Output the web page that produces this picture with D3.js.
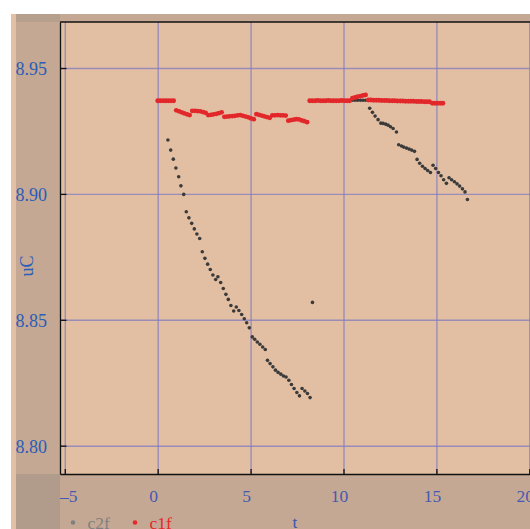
<!DOCTYPE html>
<html>
<head>
<meta charset="utf-8">
<script src="https://cdn.jsdelivr.net/npm/d3@7"></script>
<style>
  body { margin: 0; background: #fff; }
  text { font-family: "Liberation Serif", "Times New Roman", serif; }
</style>
</head>
<body>
<div id="chart"></div>
<script>
// tick values
var xTicks = [-5, 0, 5, 10, 15, 20];
var yTicks = [8.80, 8.85, 8.90, 8.95];

// c2f (gray points)
var c2fT = [0.55, 0.70, 0.84, 0.98, 1.13, 1.25, 1.40, 1.54, 1.68, 1.83, 1.97, 2.11, 2.26, 2.40, 2.54, 2.69, 2.83, 2.97, 3.12, 3.24,
  3.39, 3.53, 3.67, 3.80, 3.94, 4.09, 4.23, 4.37, 4.52, 4.66, 4.79, 4.93, 5.09, 5.22, 5.36, 5.50, 5.65, 5.79, 5.91, 6.05,
  6.20, 6.34, 6.48, 6.63, 6.77, 6.91, 7.06, 7.20, 7.34, 7.49, 7.63, 7.77, 7.92, 8.06, 8.20, 8.33,
  10.48, 10.62, 10.76, 10.91, 11.05, 11.19,
  11.41, 11.56, 11.70, 11.86, 12.01, 12.13, 12.27, 12.40, 12.53, 12.67, 12.85, 12.97, 13.12, 13.24, 13.39, 13.53, 13.67, 13.82,
  13.96, 14.10, 14.25, 14.39, 14.53, 14.68, 14.82, 14.96, 15.11, 15.25, 15.39, 15.54, 15.68, 15.82, 15.97, 16.11, 16.25, 16.40,
  16.54, 16.67];
var c2fV = [8.9214, 8.9174, 8.9138, 8.9103, 8.9068, 8.9032, 8.8998, 8.8929, 8.8905, 8.8883, 8.8861, 8.8841, 8.8823, 8.8770, 8.8744, 8.8721, 8.8700, 8.8678, 8.8660, 8.8671,
  8.8648, 8.8624, 8.8601, 8.8581, 8.8557, 8.8535, 8.8551, 8.8537, 8.8521, 8.8504, 8.8488, 8.8468, 8.8432, 8.8423, 8.8412, 8.8403, 8.8392, 8.8382, 8.8339, 8.8326,
  8.8313, 8.8300, 8.8291, 8.8284, 8.8277, 8.8273, 8.8260, 8.8243, 8.8227, 8.8211, 8.8198, 8.8227, 8.8217, 8.8207, 8.8191, 8.8569,
  8.9372, 8.9372, 8.9372, 8.9372, 8.9372, 8.9372,
  8.9340, 8.9324, 8.9309, 8.9295, 8.9281, 8.9280, 8.9277, 8.9273, 8.9267, 8.9260, 8.9246, 8.9195, 8.9190, 8.9186, 8.9182, 8.9178, 8.9174, 8.9169,
  8.9137, 8.9122, 8.9110, 8.9101, 8.9093, 8.9085, 8.9114, 8.9101, 8.9085, 8.9072, 8.9056, 8.9042, 8.9064, 8.9056, 8.9048, 8.9040, 8.9031, 8.9020,
  8.9008, 8.8978];

// c1f (red points)
var c1fT = [0.00, 0.14, 0.29, 0.43, 0.57, 0.72, 0.86,
  1.00, 1.15, 1.29, 1.43, 1.58, 1.72,
  1.86, 2.01, 2.15, 2.29, 2.44, 2.58,
  2.72, 2.87, 3.01, 3.16, 3.30, 3.44,
  3.59, 3.73, 3.87, 4.02, 4.16, 4.31, 4.45, 4.59, 4.74, 4.88, 5.02, 5.17,
  5.31, 5.45, 5.60, 5.74, 5.88, 6.03,
  6.17, 6.31, 6.46, 6.60, 6.74, 6.89,
  7.03, 7.17, 7.32, 7.46, 7.60, 7.75, 7.89, 8.04,
  8.18, 8.32, 8.47, 8.61, 8.75, 8.90, 9.04, 9.18, 9.33, 9.47, 9.61, 9.76, 9.90, 10.04, 10.19, 10.33,
  10.48, 10.62, 10.76, 10.91, 11.05, 11.19,
  11.34, 11.48, 11.62, 11.77, 11.91, 12.05, 12.20, 12.34, 12.48, 12.63, 12.77, 12.91, 13.06, 13.20, 13.34, 13.49,
  13.63, 13.77, 13.92, 14.06, 14.20, 14.35, 14.49, 14.63,
  14.78, 14.92, 15.06, 15.21, 15.35];
var c1fV = [8.9370, 8.9370, 8.9370, 8.9370, 8.9370, 8.9370, 8.9370,
  8.9332, 8.9328, 8.9324, 8.9320, 8.9316, 8.9313,
  8.9330, 8.9330, 8.9329, 8.9328, 8.9325, 8.9322,
  8.9313, 8.9314, 8.9316, 8.9318, 8.9321, 8.9324,
  8.9306, 8.9307, 8.9308, 8.9309, 8.9310, 8.9312, 8.9313, 8.9310, 8.9307, 8.9304, 8.9300, 8.9297,
  8.9317, 8.9314, 8.9311, 8.9308, 8.9305, 8.9302,
  8.9312, 8.9312, 8.9313, 8.9312, 8.9312, 8.9311,
  8.9291, 8.9293, 8.9295, 8.9297, 8.9296, 8.9292, 8.9289, 8.9285,
  8.9370, 8.9370, 8.9370, 8.9371, 8.9370, 8.9370, 8.9370, 8.9371, 8.9370, 8.9370, 8.9370, 8.9370, 8.9371, 8.9370, 8.9370, 8.9370,
  8.9380, 8.9383, 8.9386, 8.9388, 8.9391, 8.9393,
  8.9373, 8.9373, 8.9372, 8.9372, 8.9372, 8.9371, 8.9371, 8.9371, 8.9370, 8.9370, 8.9370, 8.9369, 8.9369, 8.9369, 8.9368, 8.9368,
  8.9368, 8.9368, 8.9367, 8.9367, 8.9367, 8.9366, 8.9366, 8.9366,
  8.9360, 8.9360, 8.9360, 8.9360, 8.9360];

var svgWidth = 530, svgHeight = 529;
var plot = { left: 60, top: 22, right: 530, bottom: 474 };
var width = plot.right - plot.left;
var height = plot.bottom - plot.top;

var svg = d3.select("#chart")
  .append("svg")
  .attr("width", svgWidth)
  .attr("height", svgHeight);

// panel backgrounds
svg.append("rect").attr("x", 11).attr("y", 14).attr("width", 5).attr("height", 515).attr("fill", "#e3bfa3");
svg.append("rect").attr("x", 16).attr("y", 14).attr("width", 514).attr("height", 515).attr("fill", "#c4a893");
svg.append("rect").attr("x", 16).attr("y", 14).attr("width", 44).attr("height", 8).attr("fill", "#b69f8d");
svg.append("rect").attr("x", 16).attr("y", 474).attr("width", 44).attr("height", 55).attr("fill", "#b19b8a");
svg.append("rect").attr("x", plot.left).attr("y", plot.top).attr("width", width).attr("height", height).attr("fill", "#e2bfa3");

var x = d3.scaleLinear().domain([-5.258, 20.038]).range([plot.left, plot.right]);
var y = d3.scaleLinear().domain([8.78875, 8.96828]).range([plot.bottom, plot.top]);

// grid
var xGrid = svg.append("g")
  .attr("transform", `translate(0, ${plot.bottom})`)
  .call(d3.axisBottom(x).tickValues(xTicks).tickSize(-height).tickFormat(""));
var yGrid = svg.append("g")
  .attr("transform", `translate(${plot.left}, 0)`)
  .call(d3.axisLeft(y).tickValues(yTicks).tickSize(-width).tickFormat(""));
[xGrid, yGrid].forEach(function(g) {
  g.select(".domain").remove();
  g.selectAll("line").attr("stroke", "#7e78c0").attr("stroke-opacity", 0.72).attr("stroke-width", 1.4);
});

// points: c2f first, c1f on top
var c2f = c2fT.map((t, i) => ({ t: t, v: c2fV[i] }));
var c1f = c1fT.map((t, i) => ({ t: t, v: c1fV[i] }));

var plotGroup = svg.append("g");
plotGroup.selectAll("circle.c2f")
  .data(c2f)
  .enter()
  .append("circle")
  .attr("class", "c2f")
  .attr("cx", d => x(d.t))
  .attr("cy", d => y(d.v))
  .attr("r", 1.8)
  .attr("fill", "#3a3a3a");

plotGroup.selectAll("circle.c1f")
  .data(c1f)
  .enter()
  .append("circle")
  .attr("class", "c1f")
  .attr("cx", d => x(d.t))
  .attr("cy", d => y(d.v))
  .attr("r", 2.4)
  .attr("fill", "#e2272a");

// frame
svg.append("line").attr("x1", plot.left).attr("x2", plot.right).attr("y1", plot.top).attr("y2", plot.top)
  .attr("stroke", "#111").attr("stroke-width", 1.3);

var xAxis = svg.append("g")
  .attr("transform", `translate(0, ${plot.bottom})`)
  .call(d3.axisBottom(x).tickValues(xTicks).tickSize(-5).tickSizeOuter(0).tickFormat(d => d < 0 ? "\u2013" + Math.abs(d) : d));
xAxis.select(".domain").attr("stroke", "#111").attr("stroke-width", 1.5);
xAxis.selectAll("line").attr("stroke", "#111").attr("stroke-width", 1.3);
xAxis.selectAll("text")
  .attr("y", 28)
  .attr("dy", 0)
  .attr("dx", d => d < 0 ? 3.5 : -4.5)
  .attr("fill", "#4658b2")
  .style("font-size", "17.5px");

var yAxis = svg.append("g")
  .attr("transform", `translate(${plot.left}, 0)`)
  .call(d3.axisLeft(y).tickValues(yTicks).tickSize(-6.5).tickSizeOuter(0).tickPadding(13).tickFormat(d3.format(".2f")));
yAxis.select(".domain").attr("stroke", "#111").attr("stroke-width", 1.3);
yAxis.selectAll("line").attr("stroke", "#111").attr("stroke-width", 1.3);
yAxis.selectAll("text")
  .attr("dy", "0.38em")
  .attr("fill", "#2a5cb8")
  .style("font-size", "18px");

// axis labels
svg.append("text")
  .attr("transform", "translate(33, 266) rotate(-90)")
  .attr("text-anchor", "middle")
  .attr("fill", "#2a5cb8")
  .style("font-size", "18px")
  .text("uC");

svg.append("text")
  .attr("x", 295)
  .attr("y", 528)
  .attr("text-anchor", "middle")
  .attr("fill", "#3d55b0")
  .style("font-size", "17.5px")
  .text("t");

// legend
var legend = [{ name: "c2f", color: "#808080", x: 73 }, { name: "c1f", color: "#e8262b", x: 135 }];
var legendGroup = svg.append("g");
legend.forEach(function(l) {
  legendGroup.append("circle").attr("cx", l.x).attr("cy", 522.5).attr("r", 2.3).attr("fill", l.color);
  legendGroup.append("text").attr("x", l.x + 14.5).attr("y", 528.5).attr("fill", l.color)
    .style("font-size", "17.5px").text(l.name);
});
</script>
</body>
</html>
